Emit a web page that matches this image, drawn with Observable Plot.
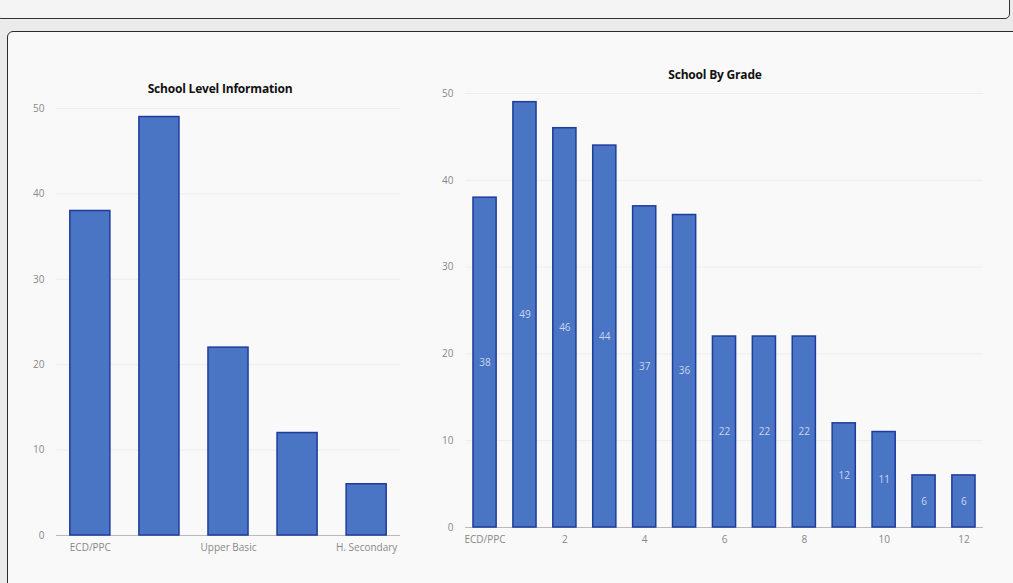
<!DOCTYPE html>
<html>
<head>
<meta charset="utf-8">
<script src="https://cdn.jsdelivr.net/npm/d3@7"></script>
<script src="https://cdn.jsdelivr.net/npm/@observablehq/plot@0.6"></script>
<style>
  html, body { margin:0; padding:0; }
  body { width:1013px; height:583px; background:#ebebeb; position:relative; overflow:hidden; font-family:"Open Sans", sans-serif; }
  #topbox { position:absolute; left:-4px; top:-10px; width:1012px; height:27px; border:1.5px solid #333; border-radius:5px; background:#f4f4f4; }
  #panel { position:absolute; left:7px; top:31px; width:1010px; height:560px; border:1.5px solid #2b2b2b; border-radius:6px; background:#f9f9f9; }
  .title { position:absolute; font-weight:700; font-size:12px; color:#111; white-space:nowrap; transform:translateX(-50%); letter-spacing:-0.2px; }
  .chart { position:absolute; }
</style>
</head>
<body>
<div id="topbox"></div>
<div id="panel"></div>
<div class="title" style="left:220px; top:80px;">School Level Information</div>
<div class="title" style="left:715px; top:66px;">School By Grade</div>
<div class="chart" id="left" style="left:10px; top:70px;"></div>
<div class="chart" id="right" style="left:420px; top:60px;"></div>
<script>
// School Level Information
const levelCategories = ["ECD/PPC", "Lower Basic", "Upper Basic", "Secondary", "H. Secondary"];
const levelValues = [38, 49, 22, 12, 6];
const levelTickLabels = ["ECD/PPC", "Upper Basic", "H. Secondary"];

// School By Grade
const gradeCategories = ["ECD/PPC", "1", "2", "3", "4", "5", "6", "7", "8", "9", "10", "11", "12"];
const gradeValues = [38, 49, 46, 44, 37, 36, 22, 22, 22, 12, 11, 6, 6];
const gradeTickLabels = ["ECD/PPC", "2", "4", "6", "8", "10", "12"];

const yTicks = [0, 10, 20, 30, 40, 50];

const levelData = levelCategories.map((c, i) => ({cat: c, value: levelValues[i]}));
const gradeData = gradeCategories.map((c, i) => ({cat: c, value: gradeValues[i]}));

const barFill = "#4a74c4";
const barStroke = "#1f3c9c";
const axisStyle = {background: "transparent", fontFamily: "Open Sans, sans-serif", fontSize: "10px", color: "#888"};

const left = Plot.plot({
  width: 400, height: 490,
  marginTop: 38, marginBottom: 25, marginLeft: 46, marginRight: 10,
  style: axisStyle,
  x: {domain: levelCategories, paddingInner: 0.42, paddingOuter: 0.2, round: false, label: null, ticks: levelTickLabels, tickSize: 0, tickPadding: 8},
  y: {domain: [0, 50], ticks: yTicks, label: null, tickSize: 0, tickPadding: 12, grid: true},
  marks: [
    Plot.ruleY([0], {stroke: "#bbb"}),
    Plot.barY(levelData, {x: "cat", y: "value", fill: barFill, stroke: barStroke, strokeWidth: 1.5})
  ]
});
document.getElementById("left").appendChild(left);

const right = Plot.plot({
  width: 593, height: 500,
  marginTop: 33, marginBottom: 33, marginLeft: 45, marginRight: 30,
  style: axisStyle,
  x: {domain: gradeCategories, paddingInner: 0.42, paddingOuter: 0.2, round: false, label: null, ticks: gradeTickLabels, tickSize: 0, tickPadding: 8},
  y: {domain: [0, 50], ticks: yTicks, label: null, tickSize: 0, tickPadding: 12, grid: true},
  marks: [
    Plot.ruleY([0], {stroke: "#bbb"}),
    Plot.barY(gradeData, {x: "cat", y: "value", fill: barFill, stroke: barStroke, strokeWidth: 1.5}),
    Plot.text(gradeData, {x: "cat", y: d => d.value / 2, text: d => String(d.value), fill: "#c9d6f0", fontSize: 10})
  ]
});
document.getElementById("right").appendChild(right);
</script>
</body>
</html>
